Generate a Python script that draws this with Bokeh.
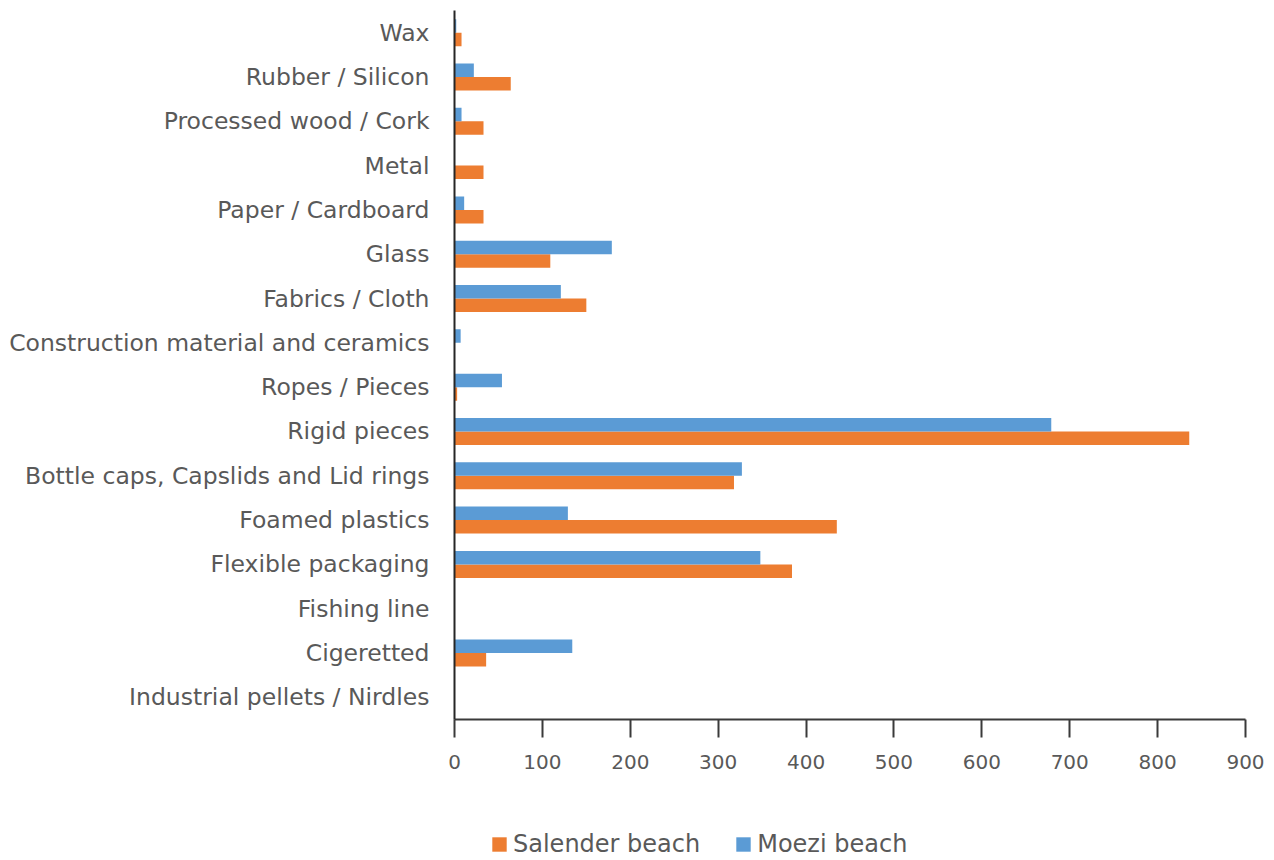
from bokeh.plotting import figure
from bokeh.layouts import column
from bokeh.models import FactorRange, Range1d, FixedTicker, Legend, LegendItem
from bokeh.transform import dodge
from bokeh.embed import file_html
from bokeh.resources import INLINE

# Litter categories, listed bottom to top
categories = [
    "Industrial pellets / Nirdles",
    "Cigeretted",
    "Fishing line",
    "Flexible packaging",
    "Foamed plastics",
    "Bottle caps, Capslids and Lid rings",
    "Rigid pieces",
    "Ropes / Pieces",
    "Construction material and ceramics",
    "Fabrics / Cloth",
    "Glass",
    "Paper / Cardboard",
    "Metal",
    "Processed wood / Cork",
    "Rubber / Silicon",
    "Wax",
]
salender = [0, 36, 0, 384, 435, 318, 836, 3, 0, 150, 109, 33, 33, 33, 64, 8]
moezi = [0, 134, 0, 348, 129, 327, 679, 54, 7, 121, 179, 11, 0, 8, 22, 2]
series_names = ["Salender beach", "Moezi beach"]
x_ticks = [0, 100, 200, 300, 400, 500, 600, 700, 800, 900]

ORANGE = "#ED7D31"
BLUE = "#5B9BD5"
TEXT = "#595959"
FONT = "DejaVu Sans"

p = figure(
    width=1274, height=800,
    y_range=FactorRange(factors=categories, range_padding=0),
    x_range=Range1d(0, 900),
    output_backend="svg", toolbar_location=None,
    min_border_left=454, min_border_right=29,
    min_border_top=10, min_border_bottom=81,
)
p.outline_line_color = None
p.grid.grid_line_color = None

src = dict(cat=categories, sal=salender, moe=moezi)
p.hbar(y=dodge("cat", -0.152, range=p.y_range), right="sal", left=0,
       height=0.305, color=ORANGE, line_color=None, source=src)
p.hbar(y=dodge("cat", 0.152, range=p.y_range), right="moe", left=0,
       height=0.305, color=BLUE, line_color=None, source=src)

# x axis
xa = p.xaxis[0]
xa.ticker = FixedTicker(ticks=x_ticks)
xa.minor_tick_line_color = None
xa.major_tick_in = 0
xa.major_tick_out = 18
xa.axis_line_color = "#3a3a3a"
xa.axis_line_width = 2
xa.major_tick_line_color = "#3a3a3a"
xa.major_tick_line_width = 2
xa.major_label_text_font = FONT
xa.major_label_text_font_size = "20px"
xa.major_label_text_color = TEXT
xa.major_label_standoff = 17

# y axis
ya = p.yaxis[0]
ya.major_tick_line_color = None
ya.minor_tick_line_color = None
ya.axis_line_color = "#262626"
ya.axis_line_width = 2
ya.major_label_text_font = FONT
ya.major_label_text_font_size = "23.5px"
ya.major_label_text_color = TEXT
ya.major_label_standoff = 19

# legend strip underneath the chart (its frame lines up with the chart's)
leg = figure(
    width=1274, height=60, x_range=Range1d(0, 1), y_range=Range1d(0, 1),
    output_backend="svg", toolbar_location=None,
    min_border=0, outline_line_color=None,
)
leg.axis.visible = False
leg.grid.visible = False
# zero-width swatch sources for the legend keys
k_sal = leg.hbar(y=[0], left=[0], right=[0], height=1, color=ORANGE, line_color=None)
k_moe = leg.hbar(y=[0], left=[0], right=[0], height=1, color=BLUE, line_color=None)

legend = Legend(
    items=[LegendItem(label=series_names[0], renderers=[k_sal], index=0),
           LegendItem(label=series_names[1], renderers=[k_moe], index=0)],
    orientation="horizontal", location=(36, 2),
    padding=0, margin=0, spacing=34,
    glyph_width=18, glyph_height=18, label_standoff=5,
    label_text_font=FONT, label_text_font_size="24px", label_text_color=TEXT,
    border_line_color=None, background_fill_alpha=0,
)
leg.add_layout(legend, "center")

open("out.html", "w").write(file_html(column(p, leg, spacing=0), INLINE))
